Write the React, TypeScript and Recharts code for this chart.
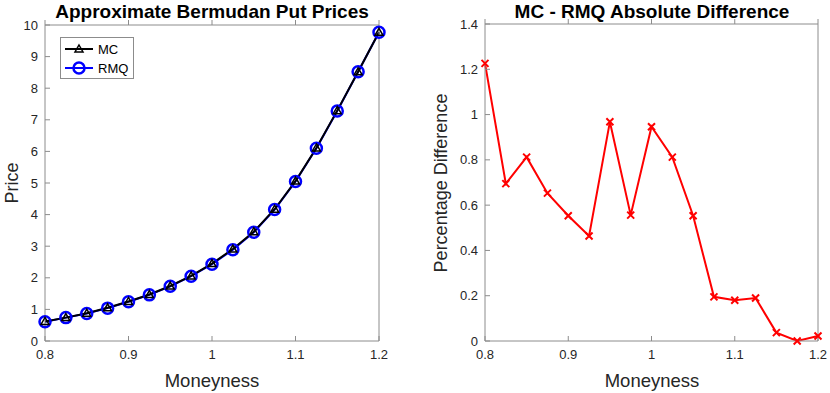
import React from 'react'
import { LineChart, Line, XAxis, YAxis } from 'recharts'

// moneyness grid (shared by both panels)
const moneyness = [0.8, 0.825, 0.85, 0.875, 0.9, 0.925, 0.95, 0.975, 1.0, 1.025, 1.05, 1.075, 1.1, 1.125, 1.15, 1.175, 1.2]
const mcPrice = [0.62, 0.74, 0.88, 1.05, 1.25, 1.47, 1.74, 2.06, 2.45, 2.91, 3.46, 4.17, 5.06, 6.11, 7.29, 8.52, 9.77]
const rmqPrice = [0.61, 0.74, 0.87, 1.04, 1.24, 1.46, 1.73, 2.05, 2.43, 2.89, 3.44, 4.16, 5.05, 6.10, 7.28, 8.52, 9.77]
const pctDiff = [1.226, 0.695, 0.812, 0.653, 0.553, 0.464, 0.968, 0.556, 0.946, 0.812, 0.553, 0.195, 0.18, 0.19, 0.037, 0.0, 0.022]

const xTicks = [0.8, 0.9, 1, 1.1, 1.2]
const priceTicks = [0, 1, 2, 3, 4, 5, 6, 7, 8, 9, 10]
const diffTicks = [0, 0.2, 0.4, 0.6, 0.8, 1, 1.2, 1.4]

const seriesNames = { mc: 'MC', rmq: 'RMQ' }

const priceData = moneyness.map((m, i) => ({ m, mc: mcPrice[i], rmq: rmqPrice[i] }))
const diffData = moneyness.map((m, i) => ({ m, d: pctDiff[i] }))

const FONT = '"Liberation Sans", Arial, Helvetica, sans-serif'
const AXIS = '#8c8c8c'
const TXT = '#262626'
const W = 415
const H = 393

const tickStyle = { fontSize: 13, fill: TXT, fontFamily: FONT }

const Triangle = (props: any) => {
  const { cx, cy } = props
  if (cx == null || cy == null) return null
  return <path d={`M${cx},${cy - 4} L${cx + 4},${cy + 3} L${cx - 4},${cy + 3} Z`} fill="none" stroke="#000" strokeWidth={1.5} />
}

const Circle = (props: any) => {
  const { cx, cy } = props
  if (cx == null || cy == null) return null
  return <circle cx={cx} cy={cy} r={5.5} fill="none" stroke="#0000ff" strokeWidth={2.5} />
}

const Cross = (props: any) => {
  const { cx, cy } = props
  if (cx == null || cy == null) return null
  return <path d={`M${cx - 3.5},${cy - 3.5} L${cx + 3.5},${cy + 3.5} M${cx - 3.5},${cy + 3.5} L${cx + 3.5},${cy - 3.5}`} stroke="#ff0000" strokeWidth={2} />
}

// box axes with inward ticks on all four sides, like MATLAB
const boxAxes = (ticks: number[], domain: [number, number]) => [
  <XAxis key="xb" xAxisId={0} dataKey="m" type="number" domain={[0.8, 1.2]} ticks={xTicks} height={1}
    tickSize={-5} tickMargin={14} tick={tickStyle} stroke={AXIS} interval={0} />,
  <XAxis key="xt" xAxisId="top" orientation="top" dataKey="m" type="number" domain={[0.8, 1.2]} ticks={xTicks} height={1}
    tickSize={5} tickFormatter={() => ''} stroke={AXIS} interval={0} />,
  <YAxis key="yl" yAxisId={0} type="number" domain={domain} ticks={ticks} width={1}
    tickSize={-5} tickMargin={12} tick={tickStyle} stroke={AXIS} interval={0} />,
  <YAxis key="yr" yAxisId="right" orientation="right" type="number" domain={domain} ticks={ticks} width={1}
    tickSize={5} tickFormatter={() => ''} stroke={AXIS} interval={0} />,
]

const Title = ({ text, left }: { text: string; left: number }) => (
  <div style={{ position: 'absolute', left, top: 0, width: 334, textAlign: 'center', fontFamily: FONT, fontWeight: 'bold', fontSize: 19, color: '#000', lineHeight: '24px', whiteSpace: 'nowrap' }}>{text}</div>
)

const XLabel = ({ left }: { left: number }) => (
  <div style={{ position: 'absolute', left, top: 369, width: 334, textAlign: 'center', fontFamily: FONT, fontSize: 18.5, color: TXT, lineHeight: '24px' }}>Moneyness</div>
)

const YLabel = ({ text, cx }: { text: string; cx: number }) => (
  <div style={{ position: 'absolute', left: cx - 150, top: 171, width: 300, textAlign: 'center', fontFamily: FONT, fontSize: 18, color: TXT, lineHeight: '24px', transform: 'rotate(-90deg)' }}>{text}</div>
)

const LegendBox = () => (
  <div style={{ position: 'absolute', left: 60, top: 37, width: 72, height: 40, background: '#fff', border: `1px solid ${AXIS}`, fontFamily: FONT, fontSize: 13, color: '#000' }}>
    <svg width={72} height={40} style={{ position: 'absolute', left: 0, top: 0 }}>
      <line x1={4} x2={32} y1={11} y2={11} stroke="#000" strokeWidth={2} />
      <Triangle cx={18} cy={11} />
      <line x1={4} x2={32} y1={30} y2={30} stroke="#0000ff" strokeWidth={2} />
      <Circle cx={18} cy={30} />
      <text x={37} y={15.5} fontSize={13} fontFamily={FONT} fill="#000">{seriesNames.mc}</text>
      <text x={37} y={34.5} fontSize={13} fontFamily={FONT} fill="#000">{seriesNames.rmq}</text>
    </svg>
  </div>
)

export default function App() {
  return (
    <div style={{ position: 'absolute', left: 0, top: 0, width: 830, height: H, background: '#fff', overflow: 'hidden' }}>
      <div style={{ position: 'absolute', left: 0, top: 0 }}>
        <LineChart width={W} height={H} data={priceData} margin={{ top: 24, right: 35, bottom: 51, left: 44 }}>
          {boxAxes(priceTicks, [0, 10])}
          <Line dataKey="rmq" name={seriesNames.rmq} stroke="#0000ff" strokeWidth={2} dot={<Circle />} isAnimationActive={false} />
          <Line dataKey="mc" name={seriesNames.mc} stroke="#000" strokeWidth={2} dot={<Triangle />} isAnimationActive={false} />
        </LineChart>
      </div>
      <div style={{ position: 'absolute', left: W, top: 0 }}>
        <LineChart width={W} height={H} data={diffData} margin={{ top: 23, right: 11, bottom: 51, left: 69 }}>
          {boxAxes(diffTicks, [0, 1.4])}
          <Line dataKey="d" stroke="#ff0000" strokeWidth={2} dot={<Cross />} isAnimationActive={false} />
        </LineChart>
      </div>
      <Title text="Approximate Bermudan Put Prices" left={45} />
      <Title text="MC - RMQ Absolute Difference" left={485} />
      <XLabel left={45} />
      <XLabel left={485} />
      <YLabel text="Price" cx={12} />
      <YLabel text="Percentage Difference" cx={441} />
      <LegendBox />
    </div>
  )
}
